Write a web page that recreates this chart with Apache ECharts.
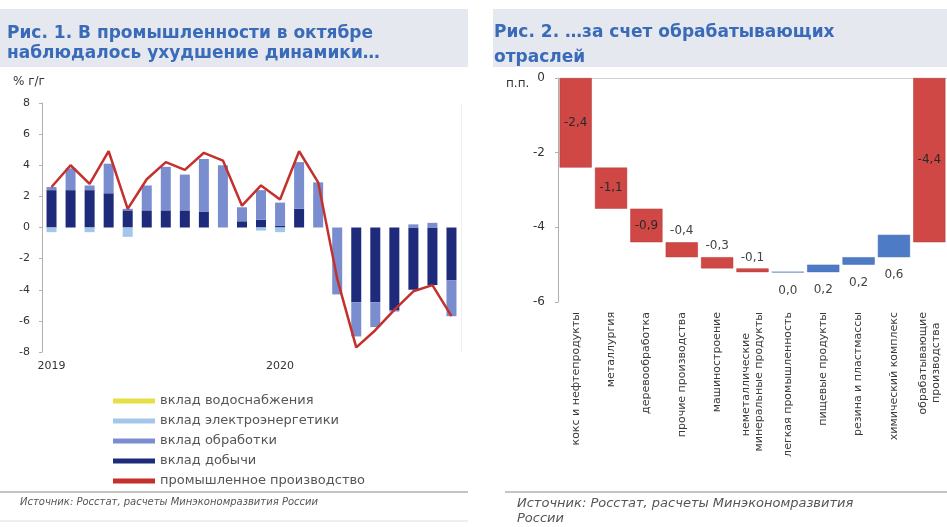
<!DOCTYPE html>
<html>
<head>
<meta charset="utf-8">
<script src="https://cdn.jsdelivr.net/npm/echarts@6/dist/echarts.min.js"></script>
<style>
  html, body { margin: 0; padding: 0; background: #ffffff; }
  #chart { width: 947px; height: 527px; }
</style>
</head>
<body>
<div id="chart"></div>
<script>
// ---- Рис. 1: вклады отраслей в динамику промпроизводства, % г/г ----
const months = ['янв.19', 'фев.19', 'мар.19', 'апр.19', 'май.19', 'июн.19', 'июл.19', 'авг.19',
                'сен.19', 'окт.19', 'ноя.19', 'дек.19', 'янв.20', 'фев.20', 'мар.20', 'апр.20',
                'май.20', 'июн.20', 'июл.20', 'авг.20', 'сен.20', 'окт.20'];
const yearTicks = ['2019', '', '', '', '', '', '', '', '', '', '', '',
                   '2020', '', '', '', '', '', '', '', '', ''];
const mining        = [2.4, 2.4, 2.4, 2.2, 1.1, 1.1, 1.1, 1.1, 1.0, 0.0, 0.4, 0.5, 0.1, 1.2, 0.0, 0.0, -4.8, -4.8, -5.3, -4.0, -3.7, -3.4];
const manufacturing = [0.2, 1.4, 0.3, 1.9, 0.1, 1.6, 2.8, 2.3, 3.4, 4.0, 0.9, 1.9, 1.5, 3.0, 2.9, -4.3, -2.2, -1.6, -0.1, 0.2, 0.3, -2.3];
const power         = [-0.3, 0.0, -0.3, 0.0, -0.6, 0.0, 0.0, 0.0, 0.0, 0.0, 0.0, -0.2, -0.3, 0.0, 0.0, 0.0, 0.0, 0.0, 0.0, 0.0, 0.0, 0.0];
const water         = [0.0, 0.0, 0.0, 0.0, 0.0, 0.0, 0.0, 0.0, 0.0, 0.0, 0.0, 0.0, 0.0, 0.0, 0.0, 0.0, 0.0, 0.0, 0.0, 0.0, 0.0, 0.0];
const industry      = [2.6, 4.0, 2.8, 4.9, 1.2, 3.1, 4.2, 3.7, 4.8, 4.3, 1.4, 2.7, 1.8, 4.9, 2.9, -3.3, -7.7, -6.6, -5.3, -4.1, -3.7, -5.7];

// ---- Рис. 2: вклады обрабатывающих отраслей, п.п. ----
const sectors = [
  'кокс и нефтепродукты',
  'металлургия',
  'деревообработка',
  'прочие производства',
  'машиностроение',
  'неметаллические      \nминеральные продукты',
  'легкая промышленность',
  'пищевые продукты',
  'резина и пластмассы',
  'химический комплекс',
  'обрабатывающие\nпроизводства   '
];
const sectorContrib = [-2.4, -1.1, -0.9, -0.4, -0.3, -0.1, 0.0, 0.2, 0.2, 0.6];
const manufTotal = -4.4;

const RED = '#CF4845';
const BLUE = '#4E7BC5';
const fmt = v => v.toFixed(1).replace('.', ',');

// Waterfall built as two negative stacks: an invisible offset plus the visible step
const wfBase = [];
const wfStep = [];
let level = 0;
sectorContrib.forEach(d => {
  const start = level;
  const end = level + d;
  if (d < 0) {
    wfBase.push(start);
    wfStep.push({
      value: d, raw: d,
      itemStyle: { color: RED, borderColor: '#B53A38', borderWidth: 0.5 },
      label: Math.abs(d) >= 0.85
        ? { position: 'inside', color: '#2a2a2a' }
        : { position: 'top', distance: 5, color: '#444' }
    });
  } else {
    wfBase.push(end);
    wfStep.push({
      value: -d, raw: d,
      itemStyle: { color: BLUE, borderColor: '#416BB0', borderWidth: 0.5 },
      label: { position: 'bottom', distance: 12, color: '#444' }
    });
  }
  level = end;
});
wfBase.push(0);
wfStep.push({
  value: manufTotal, raw: manufTotal,
  itemStyle: { color: RED, borderColor: '#B53A38', borderWidth: 0.5 },
  label: { position: 'inside', color: '#2a2a2a' }
});

const FONT = 'DejaVu Sans';
const TITLE_BLUE = '#3A6BB8';

const chart = echarts.init(document.getElementById('chart'), null, { renderer: 'canvas' });

chart.setOption({
  animation: false,
  backgroundColor: '#ffffff',
  textStyle: { fontFamily: FONT },
  graphic: [
    { type: 'rect', shape: { x: 0, y: 9, width: 468, height: 58 }, style: { fill: '#E6E8EF' }, z: -10 },
    { type: 'rect', shape: { x: 493, y: 9, width: 454, height: 58 }, style: { fill: '#E6E8EF' }, z: -10 },
    { type: 'text', x: 13, y: 76, style: { text: '% г/г', font: '12px "DejaVu Sans"', fill: '#333' } },
    { type: 'text', x: 506, y: 78, style: { text: 'п.п.', font: '12px "DejaVu Sans"', fill: '#333' } },
    { type: 'line', shape: { x1: 0, y1: 492, x2: 468, y2: 492 }, style: { stroke: '#8a8a8a', lineWidth: 1 } },
    { type: 'line', shape: { x1: 0, y1: 521, x2: 468, y2: 521 }, style: { stroke: '#dcdcdc', lineWidth: 1 } },
    { type: 'line', shape: { x1: 505, y1: 492, x2: 947, y2: 492 }, style: { stroke: '#8a8a8a', lineWidth: 1 } },
    { type: 'text', x: 20, y: 497, style: { text: 'Источник: Росстат, расчеты Минэкономразвития России', font: 'italic 10px "DejaVu Sans"', fill: '#555' } },
    { type: 'text', x: 517, y: 496, style: { text: 'Источник: Росстат, расчеты Минэкономразвития\nРоссии', font: 'italic 13px "DejaVu Sans"', lineHeight: 15, fill: '#555' } }
  ],
  title: [
    {
      text: 'Рис. 1. В промышленности в октябре\nнаблюдалось ухудшение динамики…',
      left: 7, top: 24, padding: 0,
      textStyle: { fontFamily: FONT, fontSize: 17, fontWeight: 'bold', color: TITLE_BLUE, lineHeight: 20 }
    },
    {
      text: 'Рис. 2. …за счет обрабатывающих\nотраслей',
      left: 494, top: 20, padding: 0,
      textStyle: { fontFamily: FONT, fontSize: 17, fontWeight: 'bold', color: TITLE_BLUE, lineHeight: 25 }
    }
  ],
  legend: {
    orient: 'vertical',
    left: 113, top: 394, padding: 0,
    itemWidth: 42, itemHeight: 5, itemGap: 6,
    icon: 'rect',
    selectedMode: false,
    textStyle: { fontFamily: FONT, fontSize: 13, color: '#555', lineHeight: 14 },
    data: ['вклад водоснабжения', 'вклад электроэнергетики', 'вклад обработки', 'вклад добычи', 'промышленное производство']
  },
  grid: [
    { left: 42, top: 103, width: 419, height: 249 },
    { left: 558, top: 78, width: 389, height: 224 }
  ],
  xAxis: [
    {
      gridIndex: 0, type: 'category', data: months,
      axisLine: { show: false, onZero: false },
      axisTick: { show: false },
      axisLabel: { interval: 0, margin: 9, fontSize: 11, color: '#333', formatter: (v, i) => yearTicks[i] },
      splitLine: { show: true, interval: i => i === 12, lineStyle: { color: '#efefef' } }
    },
    {
      gridIndex: 1, type: 'category', data: sectors, position: 'bottom',
      axisLine: { show: false, onZero: false },
      axisTick: { show: false },
      axisLabel: { interval: 0, rotate: 90, margin: 10, fontSize: 11, color: '#3a3a3a', lineHeight: 13 }
    },
    {
      gridIndex: 1, type: 'category', data: sectors, position: 'top',
      axisLine: { show: true, onZero: false, lineStyle: { color: '#d0d0d0' } },
      axisTick: { show: false },
      axisLabel: { show: false }
    }
  ],
  yAxis: [
    {
      gridIndex: 0, type: 'value', min: -8, max: 8, interval: 2,
      axisLine: { show: true, lineStyle: { color: '#b0b0b0' } },
      axisTick: { show: true, length: 3, lineStyle: { color: '#b0b0b0' } },
      axisLabel: { fontSize: 11, color: '#333', margin: 12 },
      splitLine: { show: false }
    },
    {
      gridIndex: 1, type: 'value', min: -6, max: 0, interval: 2,
      axisLine: { show: true, lineStyle: { color: '#b0b0b0' } },
      axisTick: { show: true, length: 3, lineStyle: { color: '#b0b0b0' } },
      axisLabel: { fontSize: 12, color: '#333', margin: 13 },
      splitLine: { show: false }
    }
  ],
  series: [
    { name: 'вклад добычи', type: 'bar', stack: 'ind', xAxisIndex: 0, yAxisIndex: 0, barWidth: 10,
      itemStyle: { color: '#1E2B7A' }, data: mining },
    { name: 'вклад обработки', type: 'bar', stack: 'ind', xAxisIndex: 0, yAxisIndex: 0, barWidth: 10,
      itemStyle: { color: '#7A8DCF' }, data: manufacturing },
    { name: 'вклад электроэнергетики', type: 'bar', stack: 'ind', xAxisIndex: 0, yAxisIndex: 0, barWidth: 10,
      itemStyle: { color: '#A3C7EA' }, data: power },
    { name: 'вклад водоснабжения', type: 'bar', stack: 'ind', xAxisIndex: 0, yAxisIndex: 0, barWidth: 10,
      itemStyle: { color: '#E6DF45' }, data: water },
    { name: 'промышленное производство', type: 'line', xAxisIndex: 0, yAxisIndex: 0,
      symbol: 'none', z: 5,
      lineStyle: { color: '#C4302C', width: 2.5 }, itemStyle: { color: '#C4302C' },
      data: industry },

    { name: 'offset', type: 'bar', stack: 'wf', xAxisIndex: 1, yAxisIndex: 1,
      barCategoryGap: '9%', silent: true,
      itemStyle: { color: 'rgba(0,0,0,0)' }, emphasis: { disabled: true },
      data: wfBase },
    { name: 'step', type: 'bar', stack: 'wf', xAxisIndex: 1, yAxisIndex: 1,
      barCategoryGap: '9%',
      label: { show: true, fontSize: 12, fontFamily: FONT, formatter: p => fmt(p.data.raw) },
      data: wfStep }
  ]
});
</script>
</body>
</html>
